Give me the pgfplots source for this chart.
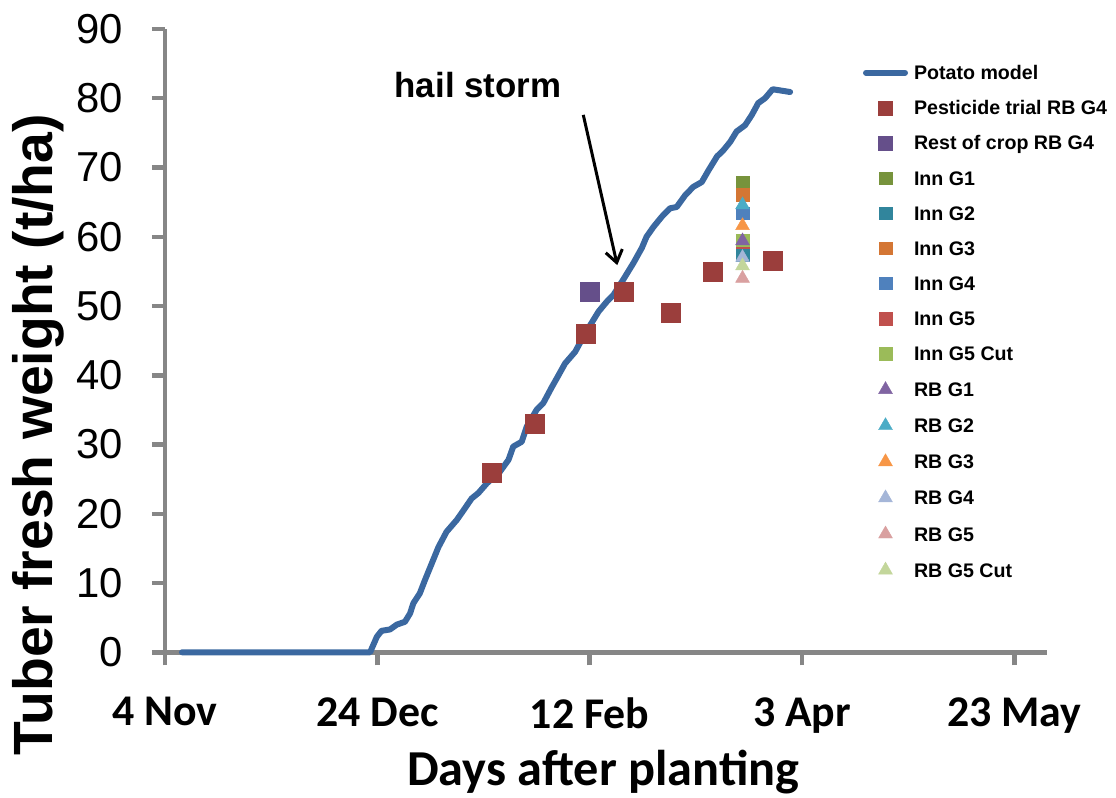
\documentclass[border=0pt]{standalone}
\usepackage{pgfplots}
\pgfplotsset{compat=1.18}
\usepackage{pgfplotstable}
\usetikzlibrary{arrows.meta}
\usepackage{fontspec}
\setmainfont{Liberation Sans}
\newfontfamily\carlito{Carlito}

\definecolor{axisgrey}{RGB}{134,134,134}
\definecolor{modelblue}{RGB}{59,104,160}
\definecolor{pestred}{RGB}{155,62,60}
\definecolor{restpurple}{RGB}{101,79,138}
\definecolor{innGa}{RGB}{119,147,60}
\definecolor{innGb}{RGB}{49,133,156}
\definecolor{innGc}{RGB}{212,118,52}
\definecolor{innGd}{RGB}{79,129,189}
\definecolor{innGe}{RGB}{192,80,77}
\definecolor{innGeCut}{RGB}{155,187,89}
\definecolor{rbGa}{RGB}{128,100,162}
\definecolor{rbGb}{RGB}{75,172,198}
\definecolor{rbGc}{RGB}{247,150,70}
\definecolor{rbGd}{RGB}{165,182,216}
\definecolor{rbGe}{RGB}{217,160,160}
\definecolor{rbGeCut}{RGB}{195,214,155}

% legend images: a short line for the model, a single centred mark otherwise
\pgfplotsset{
  mark legend/.style={legend image code/.code={%
    \path (0bp,0bp) (45bp,0bp);
    \draw[mark repeat=2, mark phase=2, ##1] plot coordinates {(0bp,0bp) (22.5bp,0bp) (45bp,0bp)};}},
  line legend model/.style={legend image code/.code={%
    \path (0bp,0bp) (45bp,0bp);
    \draw[##1] (3bp,0bp) -- (42bp,0bp);}},
}

% Potato model: days after 4 Nov vs. tuber fresh weight (t/ha)
\pgfplotstableread{
day   tfw
4     0
48.3  0
49.9  2.25
51.0  3.1
53.0  3.3
54.6  4.0
56.5  4.4
57.7  5.6
58.5  7.1
60.0  8.5
61.2  10.4
62.8  12.8
64.4  15.2
66.3  17.4
68.7  19.1
70.3  20.5
72.2  22.2
73.8  23.0
75.8  24.4
78.9  26.1
80.9  27.8
82.0  29.7
84.0  30.4
85.2  32.6
87.5  35.0
89.1  36.0
91.1  38.3
92.3  39.6
94.2  41.7
96.6  43.4
98.1  45.1
100.1 47.2
102.1 49.2
104.0 50.6
105.6 51.6
107.9 53.8
110.3 56.2
112.3 58.4
113.4 60.0
115.0 61.4
117.0 62.9
118.9 64.1
120.5 64.3
122.5 66.0
124.4 67.2
126.4 67.9
128.0 69.6
130.0 71.6
131.5 72.5
133.1 73.7
134.6 75.2
136.6 76.1
138.2 77.6
139.7 79.3
141.3 80.0
143.1 81.3
147.2 80.9
}\modeltab

% Pesticide trial RB G4 harvests
\pgfplotstableread{
day tfw
77  26
87  33
99  46
108 52
119 49
129 55
143 56.5
}\pesttab

\begin{document}
\begin{tikzpicture}
\begin{axis}[
  scale only axis,
  width=882bp, height=623.3bp,
  xmin=0, xmax=207.7, ymin=0, ymax=90,
  axis lines=left,
  axis line style={-, draw=axisgrey, line width=4.5bp},
  tick align=outside,
  major tick length=13bp,
  tick style={draw=axisgrey, line width=4.5bp},
  xtick={0,50,100,150,200},
  xticklabels={4 Nov,24 Dec,12 Feb,3 Apr,23 May},
  ytick={0,10,...,90},
  /pgf/number format/assume math mode=true,
  yticklabel style={font=\fontsize{42}{50}\selectfont, inner sep=0pt, xshift=-29bp},
  xticklabel style={font=\carlito\bfseries\fontsize{44}{52}\selectfont, inner sep=0pt, yshift=-32bp},
  xlabel={Days after planting},
  ylabel={Tuber fresh weight (t/ha)},
  every axis x label/.style={at={(axis description cs:0.497,-0.2145)}, anchor=base,
    font=\carlito\bfseries\fontsize{50.5}{60}\selectfont},
  every axis y label/.style={at={(axis description cs:-0.144,0.349)}, rotate=90, anchor=center,
    font=\bfseries\fontsize{55.5}{66}\selectfont},
  clip=false,
  mark legend,
  legend cell align=left,
  legend style={
    draw=none, fill=none,
    at={(0.788,0.9411)}, anchor=north west,
    inner sep=0pt, outer sep=0pt,
    row sep=21.1bp, column sep=3bp,
    nodes={inner sep=0pt, text height=14bp, text depth=0bp},
    font=\bfseries\fontsize{19.7}{22}\selectfont,
  },
]
\addplot[color=modelblue, line width=6bp, line join=round, line cap=round, mark=none,
  line legend model]
  table[x=day, y=tfw] {\modeltab};
\addlegendentry{Potato model}

\addplot[only marks, mark=square*, mark size=9.5bp, color=pestred,
  legend image post style={mark size=7bp}]
  table[x=day, y=tfw] {\pesttab};
\addlegendentry{Pesticide trial RB G4}

\addplot[only marks, mark=square*, mark size=9.5bp, color=restpurple,
  legend image post style={mark size=7bp}]
  coordinates {(100,52)};
\addlegendentry{Rest of crop RB G4}

\addplot[only marks, mark=square*, mark size=6.3bp, color=innGa] coordinates {(136,67.9)};
\addlegendentry{Inn G1}
\addplot[only marks, mark=square*, mark size=6.3bp, color=innGb] coordinates {(136,57.4)};
\addlegendentry{Inn G2}
\addplot[only marks, mark=square*, mark size=6.3bp, color=innGc] coordinates {(136,66.1)};
\addlegendentry{Inn G3}
\addplot[only marks, mark=square*, mark size=6.3bp, color=innGd] coordinates {(136,63.4)};
\addlegendentry{Inn G4}
\addplot[only marks, mark=square*, mark size=6.3bp, color=innGe] coordinates {(136,59.2)};
\addlegendentry{Inn G5}
\addplot[only marks, mark=square*, mark size=6.3bp, color=innGeCut] coordinates {(136,59.5)};
\addlegendentry{Inn G5 Cut}
\addplot[only marks, mark=triangle*, mark size=8bp, color=rbGa] coordinates {(136,59.4)};
\addlegendentry{RB G1}
\addplot[only marks, mark=triangle*, mark size=8bp, color=rbGb] coordinates {(136,64.6)};
\addlegendentry{RB G2}
\addplot[only marks, mark=triangle*, mark size=8bp, color=rbGc] coordinates {(136,61.6)};
\addlegendentry{RB G3}
\addplot[only marks, mark=triangle*, mark size=8bp, color=rbGd] coordinates {(136,57.0)};
\addlegendentry{RB G4}
\addplot[only marks, mark=triangle*, mark size=8bp, color=rbGe] coordinates {(136,54.0)};
\addlegendentry{RB G5}
\addplot[only marks, mark=triangle*, mark size=8bp, color=rbGeCut] coordinates {(136,55.8)};
\addlegendentry{RB G5 Cut}

% annotation of the hail event
\node[font=\bfseries\fontsize{35}{40}\selectfont] at (axis cs:73.7,81.9) {hail storm};
\draw[line width=3bp, -{Straight Barb[length=12bp,width=17bp]}]
  (axis cs:98.5,77.6) -- (axis cs:106.5,55.9);

\coordinate (bbsw) at (rel axis cs:-0.18707,-0.23376);
\coordinate (bbne) at (rel axis cs:1.07823,1.04653);
\end{axis}
\pgfresetboundingbox
\path (bbsw) rectangle (bbne);
\end{tikzpicture}
\end{document}
